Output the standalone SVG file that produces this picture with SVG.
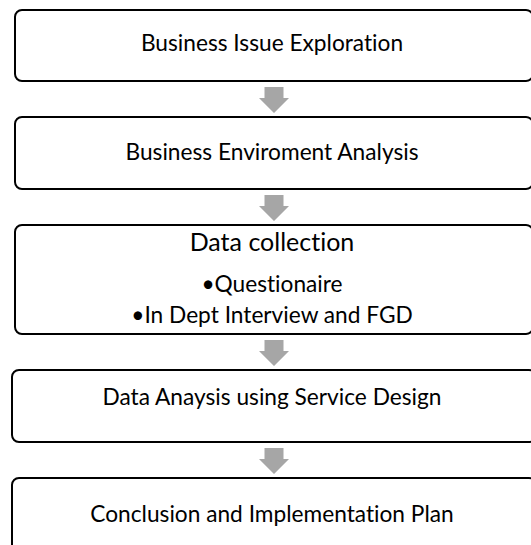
<svg xmlns="http://www.w3.org/2000/svg" width="531" height="545" viewBox="0 0 531 545">
  <style>
    .box { fill: #ffffff; stroke: #000000; stroke-width: 2; }
    .lbl { font-family: "Lato", "Liberation Sans", sans-serif; font-size: 22.7px; fill: #000000; text-anchor: middle; font-variant-ligatures: none; font-feature-settings: "liga" 0; }
    .big { font-size: 25px; }
    .arrow { fill: #a6a6a6; }
  </style>
  <defs>
    <!-- block arrow pointing down, origin at the shaft top centre -->
    <path id="down" d="M -9.5 0 H 9.5 V 11 H 15 L 0 26 L -15 11 H -9.5 Z"/>
  </defs>
  <rect width="531" height="545" fill="#ffffff"/>

  <g id="connectors">
    <use href="#down" class="arrow" x="274" y="87"/>
    <use href="#down" class="arrow" x="274" y="195"/>
    <use href="#down" class="arrow" x="274" y="340"/>
    <use href="#down" class="arrow" x="274" y="448"/>
  </g>

  <g id="issue-exploration">
    <rect class="box" x="15" y="10" width="518" height="71" rx="7"/>
    <text class="lbl" x="272" y="51">Business Issue Exploration</text>
  </g>

  <g id="environment-analysis">
    <rect class="box" x="15" y="117" width="518" height="72" rx="7"/>
    <text class="lbl" x="272" y="160">Business Enviroment Analysis</text>
  </g>

  <g id="data-collection">
    <rect class="box" x="15" y="225" width="518" height="109" rx="7"/>
    <text class="lbl big" x="272" y="251">Data collection</text>
    <text class="lbl" x="272" y="292">•Questionaire</text>
    <text class="lbl" x="272" y="323">•In Dept Interview and FGD</text>
  </g>

  <g id="data-analysis">
    <rect class="box" x="12" y="370" width="524" height="72" rx="7"/>
    <text class="lbl" x="272" y="405">Data Anaysis using Service Design</text>
  </g>

  <g id="conclusion">
    <rect class="box" x="12" y="478" width="524" height="80" rx="7"/>
    <text class="lbl" x="272" y="522">Conclusion and Implementation Plan</text>
  </g>
</svg>
